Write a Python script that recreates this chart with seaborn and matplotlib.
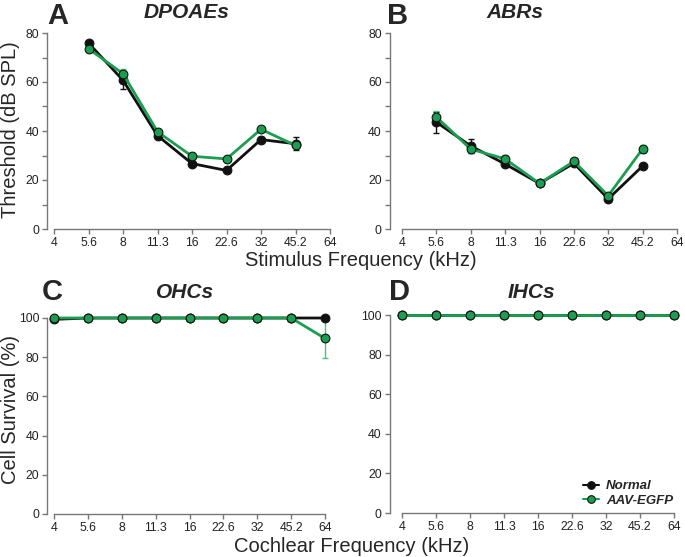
import numpy as np
import pandas as pd
import seaborn as sns
import matplotlib
matplotlib.use("Agg")
import matplotlib.pyplot as plt
from matplotlib.ticker import MultipleLocator

# frequency axis (equal spacing, octave steps)
freq_labels = ['4', '5.6', '8', '11.3', '16', '22.6', '32', '45.2', '64']
stim_freqs = ['5.6', '8', '11.3', '16', '22.6', '32', '45.2']

# DPOAE thresholds (dB SPL)
dpoae_normal = [75.9, 60.7, 38.1, 26.7, 23.9, 36.5, 34.8]
dpoae_normal_err = [0.8, 3.5, 1.0, 0.8, 0.8, 1.0, 2.7]
dpoae_aav = [73.6, 63.4, 39.7, 29.7, 28.6, 40.7, 34.1]
dpoae_aav_err = [0.8, 2.0, 0.8, 0.8, 0.8, 0.8, 1.2]

# ABR thresholds (dB SPL)
abr_normal = [43.6, 33.9, 26.5, 18.6, 26.8, 12.3, 25.7]
abr_normal_err = [4.3, 3.0, 1.0, 0.5, 0.8, 0.6, 0.5]
abr_aav = [45.7, 32.6, 28.6, 18.6, 27.6, 13.6, 32.7]
abr_aav_err = [2.4, 1.5, 1.5, 0.5, 1.0, 0.8, 1.5]

# Cell survival (%)
ohc_normal = [99.3, 100, 100, 100, 100, 100, 100, 100, 100]
ohc_aav = [100, 100, 100, 100, 100, 100, 100, 100, 89.6]
ohc_aav_err = [0, 0, 0, 0, 0, 0, 0, 0, 9.8]
ihc_normal = [100, 100, 100, 100, 100, 100, 100, 100, 100]
ihc_aav = [100, 100, 100, 100, 100, 100, 100, 100, 100]

groups = ['Normal', 'AAV-EGFP']
colors = {'Normal': '#111111', 'AAV-EGFP': '#1a9e4f'}
err_colors = {'Normal': '#111111', 'AAV-EGFP': '#4cc27a'}

sns.set_style("ticks")
plt.rcParams['font.family'] = ['Liberation Sans', 'DejaVu Sans']

fig = plt.figure(figsize=(6.85, 5.57), dpi=100)
W, H = 685, 557


def add_axes(x0, x1, y_bottom, y_top):
    return fig.add_axes([x0 / W, (H - y_bottom) / H, (x1 - x0) / W, (y_bottom - y_top) / H])


def make_df(xlabels, normal, aav, normal_err=None, aav_err=None):
    pos = [freq_labels.index(x) for x in xlabels]
    n = len(pos)
    df = pd.DataFrame({
        'x': pos * 2,
        'y': list(normal) + list(aav),
        'err': list(normal_err if normal_err is not None else [0] * n)
               + list(aav_err if aav_err is not None else [0] * n),
        'group': ['Normal'] * n + ['AAV-EGFP'] * n,
    })
    return df


def draw(ax, df, ymax, minor, offset):
    for g in groups:
        d = df[df['group'] == g]
        ax.errorbar(d['x'], d['y'], yerr=d['err'], fmt='none', ecolor=err_colors[g],
                    elinewidth=1.0, capsize=2.5, capthick=1.0, zorder=2, clip_on=False)
    sns.lineplot(data=df, x='x', y='y', hue='group', hue_order=groups, palette=colors,
                 marker='o', markersize=6.3, markeredgecolor='#111111', markeredgewidth=0.8,
                 linewidth=2.0, ax=ax, legend=False, clip_on=False, zorder=3)
    ax.set_xlim(0, 8)
    ax.set_ylim(0, ymax)
    ax.set_xticks(range(9))
    ax.set_xticklabels(freq_labels)
    ax.yaxis.set_major_locator(MultipleLocator(20))
    if minor:
        ax.yaxis.set_minor_locator(MultipleLocator(10))
    ax.set_xlabel('')
    ax.set_ylabel('')
    sns.despine(ax=ax)
    ax.spines['left'].set_position(('outward', offset))
    for s in ['left', 'bottom']:
        ax.spines[s].set_color('#777777')
        ax.spines[s].set_linewidth(1.0)
    ax.tick_params(axis='both', which='both', labelsize=8.8, color='#777777',
                   length=3.5, width=1.0, pad=2, labelcolor='#222222')


axA = add_axes(54, 330, 229, 33)
draw(axA, make_df(stim_freqs, dpoae_normal, dpoae_aav, dpoae_normal_err, dpoae_aav_err), 80, True, 5)
axB = add_axes(402, 677, 229, 33)
draw(axB, make_df(stim_freqs, abr_normal, abr_aav, abr_normal_err, abr_aav_err), 80, True, 9)
axC = add_axes(54, 325, 514, 318)
draw(axC, make_df(freq_labels, ohc_normal, ohc_aav, None, ohc_aav_err), 100, False, 5)
axD = add_axes(402, 674, 513, 315)
draw(axD, make_df(freq_labels, ihc_normal, ihc_aav), 100, False, 9)

# panel letters and titles
for letter, x, y in [('A', 47, 16), ('B', 387, 16), ('C', 42, 292), ('D', 389, 292)]:
    fig.text(x / W, 1 - y / H, letter, fontsize=21, fontweight='bold', ha='left', va='center')
for title, x, y in [('DPOAEs', 187, 13), ('ABRs', 515, 13), ('OHCs', 185, 292), ('IHCs', 531, 292)]:
    fig.text(x / W, 1 - y / H, title, fontsize=15, fontweight='bold', fontstyle='italic',
             ha='center', va='center')

# shared axis labels
fig.text(361 / W, 1 - 260 / H, 'Stimulus Frequency (kHz)', fontsize=14.5, ha='center', va='center')
fig.text(352 / W, 1 - 546 / H, 'Cochlear Frequency (kHz)', fontsize=14.5, ha='center', va='center')
fig.text(11 / W, 1 - 130 / H, 'Threshold (dB SPL)', fontsize=14.5, rotation=90, ha='center', va='center')
fig.text(11 / W, 1 - 410 / H, 'Cell Survival (%)', fontsize=14.5, rotation=90, ha='center', va='center')

# legend
handles = [plt.Line2D([], [], color=colors[g], marker='o', markersize=5.5,
                      markeredgecolor='#111111', markeredgewidth=0.8, linewidth=1.5) for g in groups]
leg = axD.legend(handles, groups, loc='lower right', bbox_to_anchor=(1.04, -0.03), frameon=False,
                 handlelength=1.2, handletextpad=0.5, labelspacing=0.2,
                 prop={'weight': 'bold', 'style': 'italic', 'size': 9.5})

fig.savefig('out.png', dpi=100)
